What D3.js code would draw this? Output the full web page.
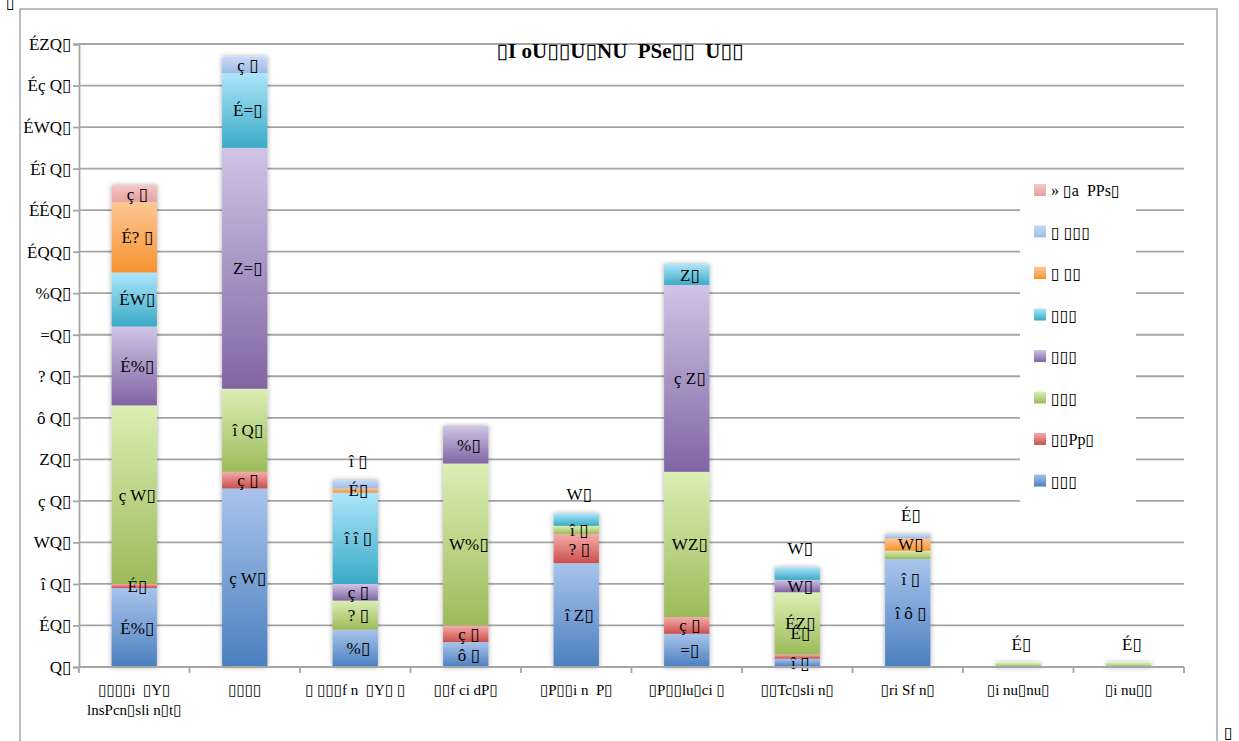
<!DOCTYPE html>
<html><head><meta http-equiv="Content-Type" content="text/html; charset=utf-8">
<script src="https://d3js.org/d3.v7.min.js"></script>
<style>
  body { margin: 0; background: #fff; }
  text { font-family: "Liberation Serif", "DejaVu Serif", serif; white-space: pre; }
</style>
</head>
<body>
<div class="chart"></div>
<script type="text/javascript">

var T = "\u25AF";   // missing glyph box, as seen in the picture

// ---------------- DATA ----------------
var categories = [
  T+T+T+T+"i  "+T+"Y"+T+"\nlnsPcn"+T+"sli n"+T+"t"+T,
  T+T+T+T,
  T+" "+T+T+T+"f n  "+T+"Y"+T+" "+T,
  T+T+"f ci dP"+T,
  T+"P"+T+T+"i n  P"+T,
  T+"P"+T+T+"lu"+T+"ci "+T,
  T+T+"Tc"+T+"sli n"+T,
  T+"ri Sf n"+T,
  T+"i nu"+T+"nu"+T,
  T+"i nu"+T+T
];

var seriesNames = [
  T+T+T,
  T+T+"Pp"+T,
  T+T+T,
  T+T+T,
  T+T+T,
  T+" "+T+T,
  T+" "+T+T+T,
  "» "+T+"a  PPs"+T
];

var blueVals      = [19, 43,  9,  6, 25,  8,  2, 26, 0, 0];
var redVals       = [ 1,  4,  0,  4,  7,  4,  1,  0, 0, 0];
var greenVals     = [43, 20,  7, 39,  2, 35, 15,  2, 1, 1];
var purpleVals    = [19, 58,  4,  9,  0, 45,  3,  0, 0, 0];
var cyanVals      = [13, 18, 22,  0,  3,  5,  3,  0, 0, 0];
var orangeVals    = [17,  0,  1,  0,  0,  0,  0,  3, 0, 0];
var lightBlueVals = [ 0,  4,  2,  0,  0,  0,  0,  1, 0, 0];
var pinkVals      = [ 4,  0,  0,  0,  0,  0,  0,  0, 0, 0];

var yTicks = d3.range(0, 151, 10);
var title = T+"I oU"+T+T+"U"+T+"NU  PSe"+T+T+"  U"+T+T;

// garbled digits as they show in the picture
var digitGlyphs = ["Q", "É", "î ", "W", "ç ", "Z", "ô ", "? ", "=", "%"];
function garble(n) {
  return String(n).split("").map(function(c){ return digitGlyphs[+c]; }).join("") + T;
}

// ---------------- SETUP ----------------
var width = 1239, height = 741;
var allVals = [blueVals, redVals, greenVals, purpleVals, cyanVals, orangeVals, lightBlueVals, pinkVals];
var colors = [
  ["#a9c4ec", "#4a7fbf"],
  ["#f5aca9", "#c9504d"],
  ["#dbefb4", "#9cbb5a"],
  ["#d0c4e6", "#8165a3"],
  ["#ade6fa", "#3aaac6"],
  ["#fdc895", "#f6922f"],
  ["#c8dbf6", "#9fbbe5"],
  ["#f8c6c6", "#e2a2a2"]
];

var svg = d3.select("div.chart")
  .append("svg")
  .attr("width", width)
  .attr("height", height);

var defs = svg.append("defs");
colors.forEach(function(c, i) {
  var g = defs.append("linearGradient")
    .attr("id", "grad" + i)
    .attr("x1", 0).attr("y1", 0).attr("x2", 0).attr("y2", 1);
  g.append("stop").attr("offset", "0%").attr("stop-color", c[0]);
  g.append("stop").attr("offset", "100%").attr("stop-color", c[1]);
});
defs.append("filter").attr("id", "shadow")
  .attr("x", "-20%").attr("y", "-5%").attr("width", "140%").attr("height", "110%")
  .append("feDropShadow")
  .attr("dx", 0).attr("dy", 0).attr("stdDeviation", 2.5)
  .attr("flood-color", "#000").attr("flood-opacity", 0.35);

// outer frame
svg.append("rect")
  .attr("x", 20).attr("y", 9).attr("width", 1197).attr("height", 745)
  .attr("fill", "none").attr("stroke", "#a8a8a8").attr("stroke-width", 1.5);

svg.append("text").attr("x", 6).attr("y", 8).attr("font-size", 16).text(T);
svg.append("text").attr("x", 1224).attr("y", 738).attr("font-size", 16).text(T);

var x = d3.scaleBand().domain(d3.range(categories.length)).range([79, 1184]);
var y = d3.scaleLinear().domain([0, 150]).range([667, 44]);
var barW = x.bandwidth() * 0.41;

// gridlines
svg.append("g")
  .selectAll("line")
  .data(yTicks.slice(1))
  .enter()
  .append("line")
  .attr("x1", 79).attr("x2", 1184)
  .attr("y1", function(d){ return y(d); })
  .attr("y2", function(d){ return y(d); })
  .attr("stroke", "#a5a5a5").attr("stroke-width", 1.8);

// ------------------ BARS -----------------------
var stacked = d3.stack()
  .keys(d3.range(allVals.length))
  .value(function(d, k){ return allVals[k][d]; })(d3.range(categories.length));

var bars = svg.append("g").attr("filter", "url(#shadow)");
stacked.forEach(function(layer, k) {
  bars.selectAll("rect.s" + k)
    .data(layer.filter(function(d){ return d[1] > d[0]; }))
    .enter()
    .append("rect")
    .attr("class", "s" + k)
    .attr("x", function(d){ return x(d.data) + (x.bandwidth() - barW) / 2; })
    .attr("width", barW)
    .attr("y", function(d){ return y(d[1]); })
    .attr("height", function(d){ return y(d[0]) - y(d[1]); })
    .style("fill", "url(#grad" + k + ")");
});

// value labels: centred, thin top segments go above the bar,
// thin inner segments that collide get nudged away from the nearest label
var labels = svg.append("g").attr("font-size", 17).attr("text-anchor", "middle");
d3.range(categories.length).forEach(function(i) {
  var items = [];
  stacked.forEach(function(layer, k) {
    var d = layer[i], v = d[1] - d[0];
    if (v <= 0) return;
    var isTop = allVals.slice(k + 1).every(function(s){ return s[i] === 0; });
    var cy = (isTop && v <= 3) ? y(d[1]) - 19 : (y(d[0]) + y(d[1])) / 2;
    items.push({ v: v, cy: cy, top: isTop });
  });
  items.forEach(function(it, j) {
    var pos = it.cy;
    if (it.v <= 2 && !it.top && j > 0) {
      var dB = Math.abs(it.cy - items[j - 1].cy);
      var dA = j < items.length - 1 ? Math.abs(it.cy - items[j + 1].cy) : 1e9;
      if (Math.min(dA, dB) < 14) pos = dB < dA ? it.cy - 24 : it.cy + 24;
    }
    labels.append("text")
      .attr("x", x(i) + x.bandwidth() / 2 + 3)
      .attr("y", pos + 6)
      .text(garble(it.v));
  });
});

// ------------------ AXES -----------------------
var yAxis = svg.append("g")
  .attr("transform", "translate(79,0)")
  .call(d3.axisLeft(y).tickValues(yTicks).tickSize(6).tickPadding(2).tickFormat(garble));
yAxis.selectAll("text").attr("font-size", 17).attr("fill", "#000").style("font-family", "Liberation Serif");
yAxis.selectAll("line, path").attr("stroke", "#a5a5a5").attr("stroke-width", 1.8);

var xAxis = svg.append("g").attr("transform", "translate(0,667)");
xAxis.append("line").attr("x1", 79).attr("x2", 1184)
  .attr("stroke", "#a5a5a5").attr("stroke-width", 1.8);
xAxis.selectAll("line.tk")
  .data(d3.range(categories.length + 1))
  .enter()
  .append("line")
  .attr("class", "tk")
  .attr("x1", function(d){ return 79 + d * x.bandwidth(); })
  .attr("x2", function(d){ return 79 + d * x.bandwidth(); })
  .attr("y1", 0).attr("y2", 6)
  .attr("stroke", "#a5a5a5").attr("stroke-width", 1.8);

xAxis.selectAll("text.cat")
  .data(categories)
  .enter()
  .append("text")
  .attr("class", "cat")
  .attr("text-anchor", "middle")
  .attr("font-size", 15)
  .attr("transform", function(d, i){ return "translate(" + (x(i) + x.bandwidth() / 2) + ",28)"; })
  .selectAll("tspan")
  .data(function(d){ return d.split("\n"); })
  .enter()
  .append("tspan")
  .attr("x", 0)
  .attr("dy", function(d, j){ return j === 0 ? 0 : 20; })
  .text(function(d){ return d; });

// ------------------ TITLE -----------------------
svg.append("text")
  .attr("x", 620).attr("y", 58)
  .attr("text-anchor", "middle")
  .attr("font-size", 21).attr("font-weight", "bold")
  .text(title);

// ------------------ LEGEND -----------------------
var legend = svg.append("g");
legend.append("rect")
  .attr("x", 1020).attr("y", 172).attr("width", 116).attr("height", 340)
  .attr("fill", "#fff");
var order = d3.range(allVals.length).reverse();
order.forEach(function(k, j) {
  var ly = 190 + j * 41.5;
  legend.append("rect")
    .attr("x", 1034).attr("y", ly - 6).attr("width", 12).attr("height", 12)
    .style("fill", "url(#grad" + k + ")");
  legend.append("text")
    .attr("x", 1051).attr("y", ly + 6)
    .attr("font-size", 16)
    .text(seriesNames[k]);
});

</script>
</body></html>
